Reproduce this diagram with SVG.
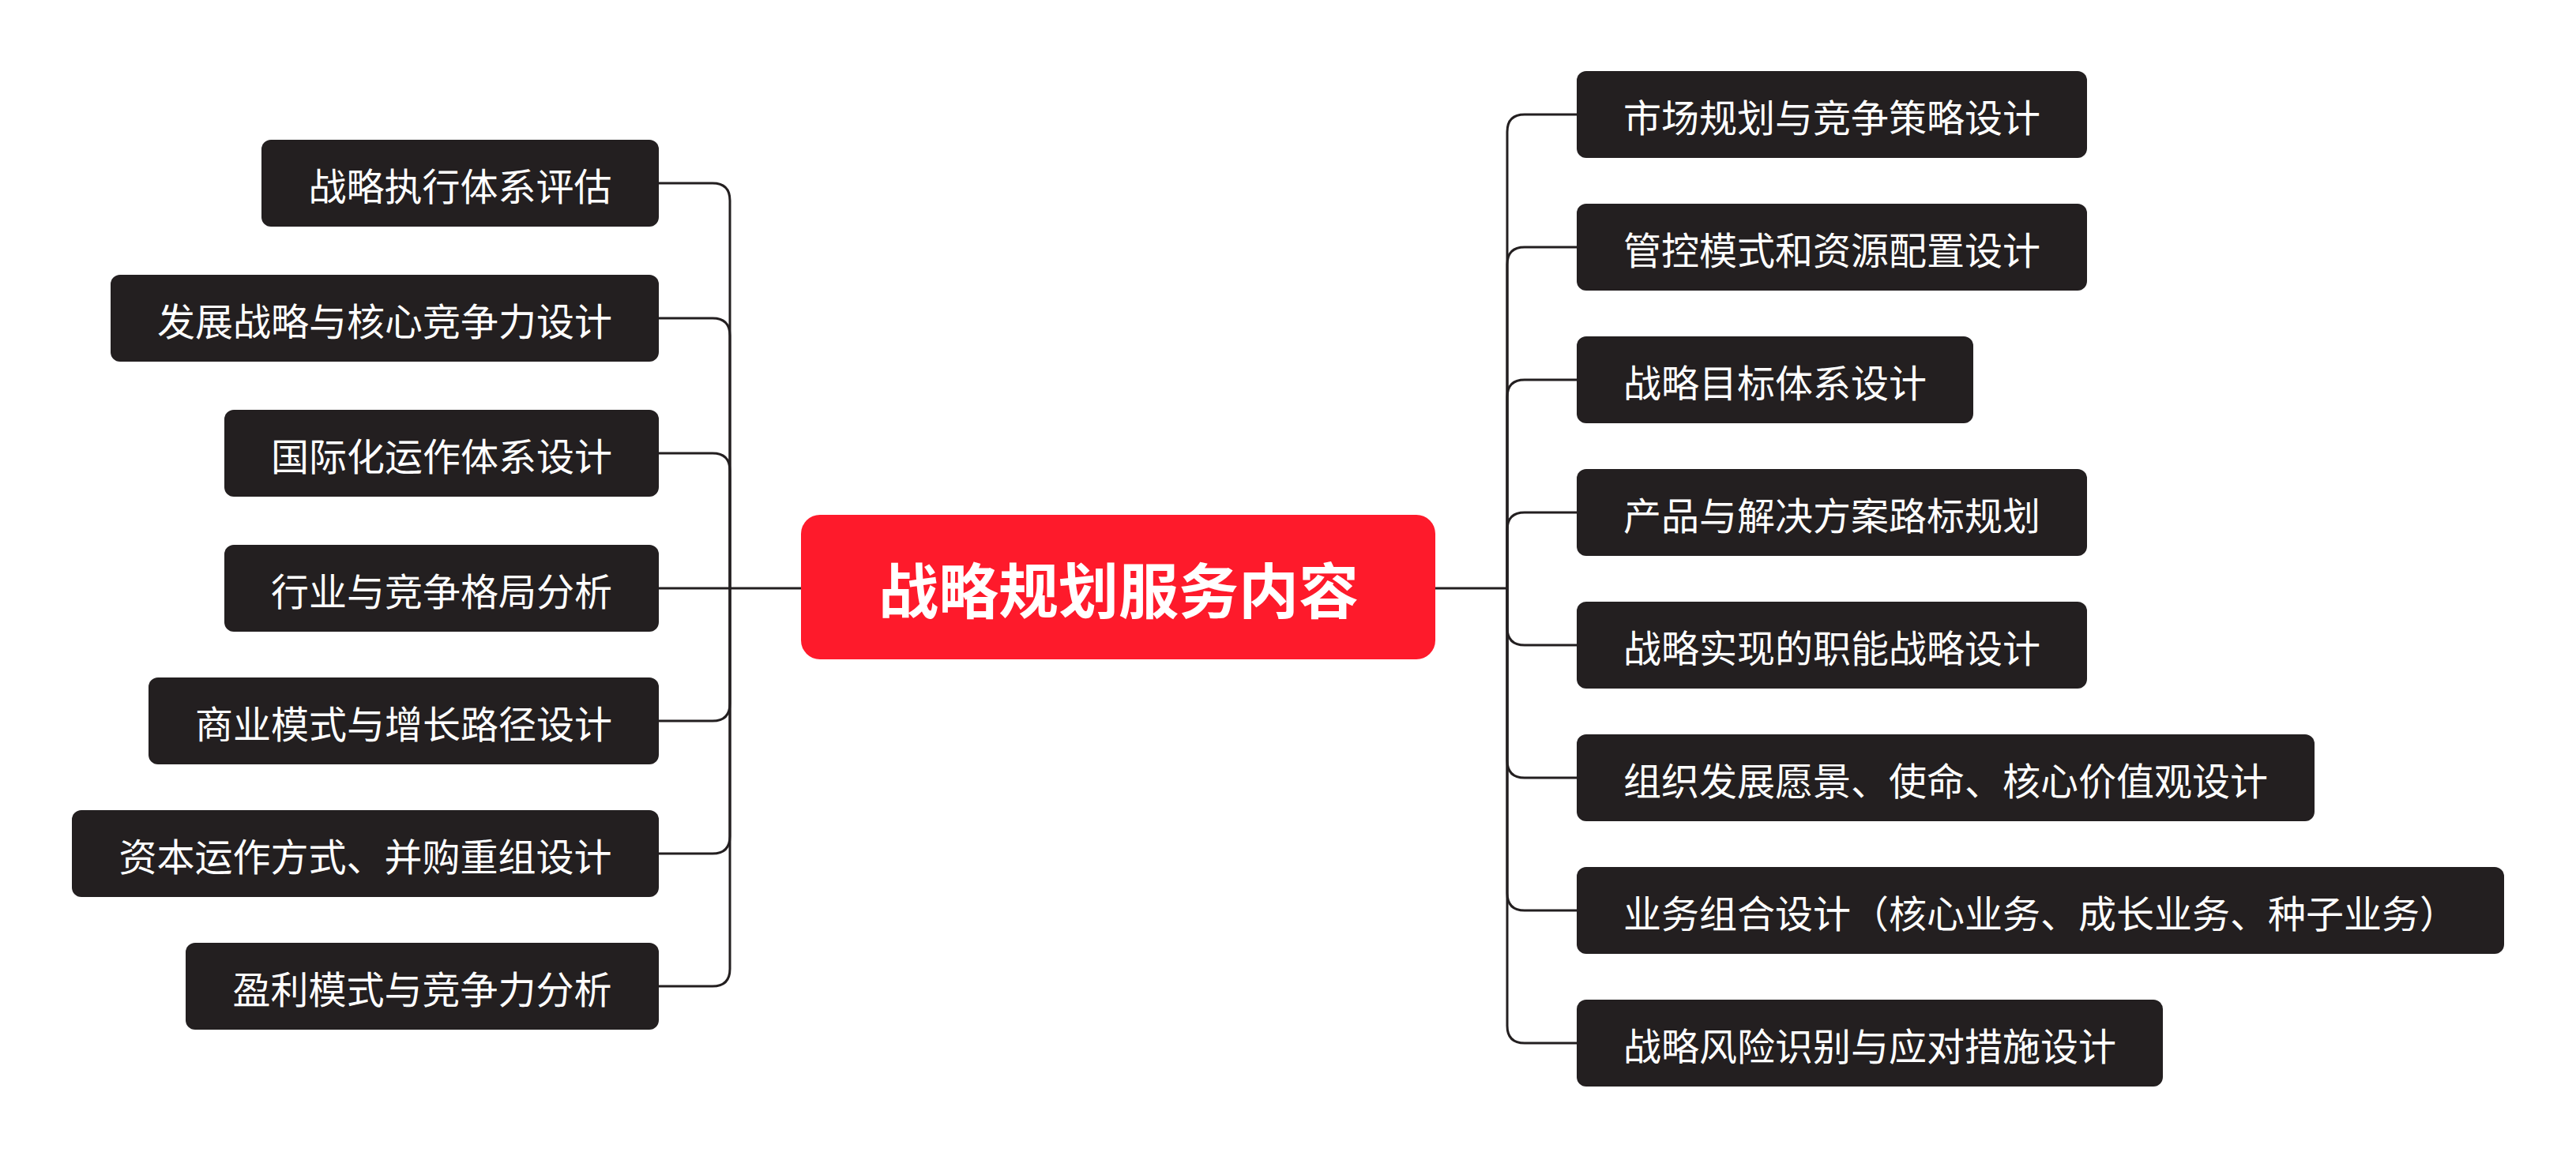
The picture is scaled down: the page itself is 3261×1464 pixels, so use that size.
<svg xmlns="http://www.w3.org/2000/svg" width="3261" height="1464" viewBox="0 0 3261 1464">
<style>
.node rect{fill:#231f20}
.node text{fill:#ffffff;font-family:"Noto Sans CJK SC","Noto Sans",sans-serif;font-size:48px;text-anchor:middle}
#center rect{fill:#fe1a2b}
#center text{fill:#ffffff;font-family:"Noto Sans CJK SC","Noto Sans",sans-serif;font-size:76px;font-weight:bold;text-anchor:middle}
#connectors path{fill:none;stroke:#231f20;stroke-width:3}
</style>
<rect x="0" y="0" width="3261" height="1464" fill="#ffffff"/>
<g id="connectors">
<path d="M1014 745 H924"/>
<path d="M924 745 V254 Q924 232 902 232 H834"/>
<path d="M924 745 V425 Q924 403 902 403 H834"/>
<path d="M924 745 V596 Q924 574 902 574 H834"/>
<path d="M924 745 H834"/>
<path d="M924 745 V891 Q924 913 902 913 H834"/>
<path d="M924 745 V1059 Q924 1081 902 1081 H834"/>
<path d="M924 745 V1227 Q924 1249 902 1249 H834"/>
<path d="M1817 745 H1908"/>
<path d="M1908 745 V167 Q1908 145 1930 145 H1996"/>
<path d="M1908 745 V335 Q1908 313 1930 313 H1996"/>
<path d="M1908 745 V503 Q1908 481 1930 481 H1996"/>
<path d="M1908 745 V671 Q1908 649 1930 649 H1996"/>
<path d="M1908 745 V795 Q1908 817 1930 817 H1996"/>
<path d="M1908 745 V963 Q1908 985 1930 985 H1996"/>
<path d="M1908 745 V1131 Q1908 1153 1930 1153 H1996"/>
<path d="M1908 745 V1299 Q1908 1321 1930 1321 H1996"/>
</g>
<g id="center"><rect x="1014" y="652" width="803" height="183" rx="24"/><text x="1416" y="777">战略规划服务内容</text></g>
<g id="l1" class="node"><rect x="331" y="177" width="503" height="110" rx="12"/><text x="582.5" y="254">战略执行体系评估</text></g>
<g id="l2" class="node"><rect x="140" y="348" width="694" height="110" rx="12"/><text x="487" y="425">发展战略与核心竞争力设计</text></g>
<g id="l3" class="node"><rect x="284" y="519" width="550" height="110" rx="12"/><text x="559" y="596">国际化运作体系设计</text></g>
<g id="l4" class="node"><rect x="284" y="690" width="550" height="110" rx="12"/><text x="559" y="767">行业与竞争格局分析</text></g>
<g id="l5" class="node"><rect x="188" y="858" width="646" height="110" rx="12"/><text x="511" y="935">商业模式与增长路径设计</text></g>
<g id="l6" class="node"><rect x="91" y="1026" width="743" height="110" rx="12"/><text x="462.5" y="1103">资本运作方式、并购重组设计</text></g>
<g id="l7" class="node"><rect x="235" y="1194" width="599" height="110" rx="12"/><text x="534.5" y="1271">盈利模式与竞争力分析</text></g>
<g id="r1" class="node"><rect x="1996" y="90" width="646" height="110" rx="12"/><text x="2319" y="167">市场规划与竞争策略设计</text></g>
<g id="r2" class="node"><rect x="1996" y="258" width="646" height="110" rx="12"/><text x="2319" y="335">管控模式和资源配置设计</text></g>
<g id="r3" class="node"><rect x="1996" y="426" width="502" height="110" rx="12"/><text x="2247" y="503">战略目标体系设计</text></g>
<g id="r4" class="node"><rect x="1996" y="594" width="646" height="110" rx="12"/><text x="2319" y="671">产品与解决方案路标规划</text></g>
<g id="r5" class="node"><rect x="1996" y="762" width="646" height="110" rx="12"/><text x="2319" y="839">战略实现的职能战略设计</text></g>
<g id="r6" class="node"><rect x="1996" y="930" width="934" height="110" rx="12"/><text x="2463" y="1007">组织发展愿景、使命、核心价值观设计</text></g>
<g id="r7" class="node"><rect x="1996" y="1098" width="1174" height="110" rx="12"/><text x="2583" y="1175">业务组合设计（核心业务、成长业务、种子业务）</text></g>
<g id="r8" class="node"><rect x="1996" y="1266" width="742" height="110" rx="12"/><text x="2367" y="1343">战略风险识别与应对措施设计</text></g>
</svg>
